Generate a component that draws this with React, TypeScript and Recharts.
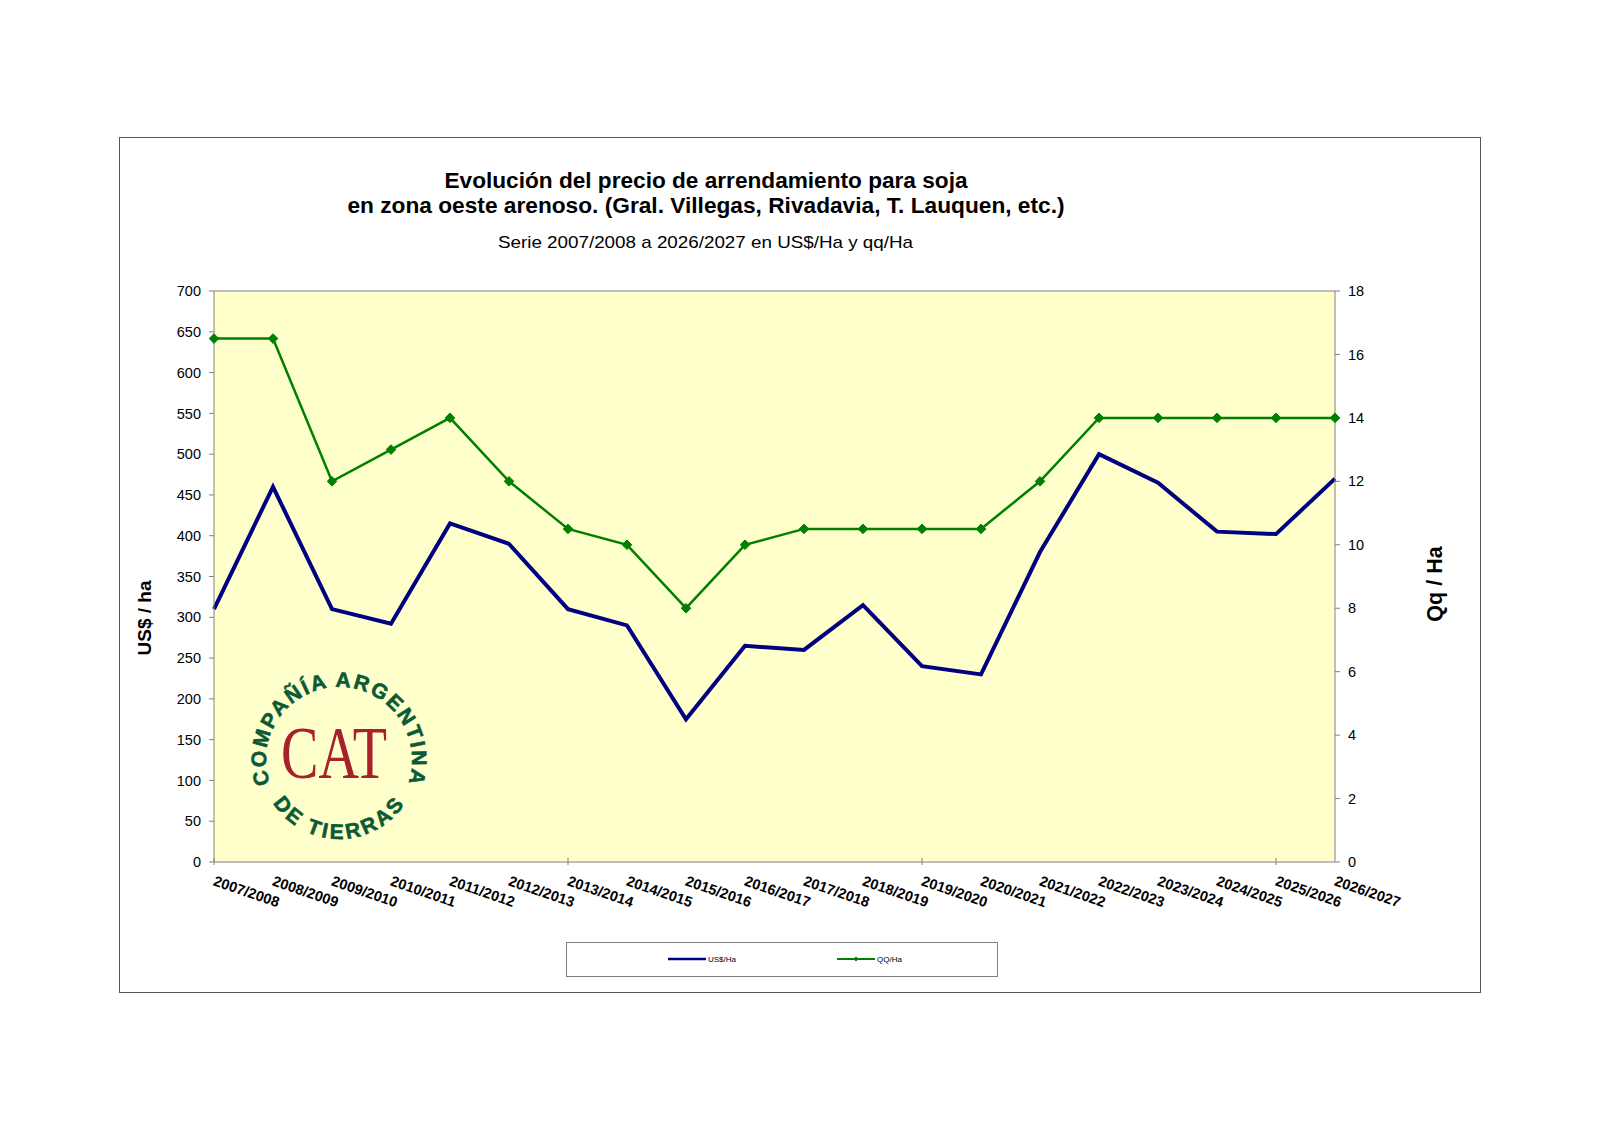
import { LineChart, Line, XAxis, YAxis, CartesianGrid, ReferenceLine, Legend } from "recharts";

const seasons = [
  "2007/2008", "2008/2009", "2009/2010", "2010/2011", "2011/2012",
  "2012/2013", "2013/2014", "2014/2015", "2015/2016", "2016/2017",
  "2017/2018", "2018/2019", "2019/2020", "2020/2021", "2021/2022",
  "2022/2023", "2023/2024", "2024/2025", "2025/2026", "2026/2027",
];
const usdHa = [310, 460, 310, 292, 415, 390, 310, 290, 175, 265, 260, 315, 240, 230, 380, 500, 465, 405, 402, 470];
const qqHa = [16.5, 16.5, 12, 13, 14, 12, 10.5, 10, 8, 10, 10.5, 10.5, 10.5, 10.5, 12, 14, 14, 14, 14, 14];
const leftTicks = [0, 50, 100, 150, 200, 250, 300, 350, 400, 450, 500, 550, 600, 650, 700];
const rightTicks = [0, 2, 4, 6, 8, 10, 12, 14, 16, 18];

const data = seasons.map((season, i) => ({ season, usd: usdHa[i], qq: qqHa[i] }));

const FONT = "'Liberation Sans', Arial, sans-serif";
const AXIS = "#808080";
const BLUE = "#000080";
const GREEN = "#008000";
const LOGO_GREEN = "#0b5a36";
const LOGO_RED = "#a8202a";

function SeasonTick(props: any) {
  const { x, y, payload, index } = props;
  const tx = x - 1.5;
  const ty = y + 23;
  return (
    <g>
      {index % 6 === 0 && <line x1={x} x2={x} y1={y - 4} y2={y + 3} stroke={AXIS} />}
      <text
        x={tx}
        y={ty}
        transform={`rotate(19 ${tx} ${ty})`}
        textAnchor="start"
        fontSize={14.5}
        fontWeight="bold"
        fill="#000"
      >
        {payload.value}
      </text>
    </g>
  );
}

function Diamond(props: any) {
  const { cx, cy, index } = props;
  if (cx == null || cy == null) return <g key={index} />;
  const r = 4.8;
  return (
    <path
      key={index}
      d={`M${cx},${cy - r}L${cx + r},${cy}L${cx},${cy + r}L${cx - r},${cy}Z`}
      fill={GREEN}
      stroke={GREEN}
    />
  );
}

// legend slots inside the box, by series key
const legendSpot: Record<string, number> = { usd: 101, qq: 270 };

function LegendBox(props: any) {
  const items = props.payload || [];
  return (
    <div style={{ width: 432, height: 35, border: `1px solid ${AXIS}`, boxSizing: "border-box", background: "#fff" }}>
      <svg width={430} height={33} style={{ display: "block" }}>
        {items.map((it: any) => {
          const x0 = legendSpot[it.dataKey] ?? 101;
          const isQq = it.dataKey === "qq";
          return (
            <g key={it.dataKey}>
              <line x1={x0} x2={x0 + 38} y1={16} y2={16} stroke={it.color} strokeWidth={isQq ? 2 : 2.5} />
              {isQq && <path d={`M${x0 + 19},${13.5}L${x0 + 21.5},${16}L${x0 + 19},${18.5}L${x0 + 16.5},${16}Z`} fill={it.color} />}
              <text x={x0 + 40} y={19} fontSize={8} fill="#000" fontFamily={FONT}>
                {it.value}
              </text>
            </g>
          );
        })}
      </svg>
    </div>
  );
}

function Logo() {
  const cx = 339;
  const cy = 760;
  const pt = (r: number, deg: number) => {
    const a = (deg * Math.PI) / 180;
    return [cx + r * Math.cos(a), cy - r * Math.sin(a)];
  };
  const rTop = 73;
  const [ax, ay] = pt(rTop, 199);
  const [bx, by] = pt(rTop, -19);
  const rBot = 79;
  const [cx1, cy1] = pt(rBot, 213);
  const [cx2, cy2] = pt(rBot, 327);
  return (
    <g>
      <defs>
        <path id="logoTop" d={`M${ax},${ay} A${rTop},${rTop} 0 1 1 ${bx},${by}`} />
        <path id="logoBottom" d={`M${cx1},${cy1} A${rBot},${rBot} 0 0 0 ${cx2},${cy2}`} />
      </defs>
      <text fontFamily={FONT} fontWeight="bold" fontSize={21} fill={LOGO_GREEN} stroke={LOGO_GREEN} strokeWidth={0.6}>
        <textPath href="#logoTop" textLength={276} lengthAdjust="spacing">
          COMPAÑÍA ARGENTINA
        </textPath>
      </text>
      <text fontFamily={FONT} fontWeight="bold" fontSize={21} fill={LOGO_GREEN} stroke={LOGO_GREEN} strokeWidth={0.6}>
        <textPath href="#logoBottom" textLength={155} lengthAdjust="spacing">
          DE TIERRAS
        </textPath>
      </text>
      <text
        x={281}
        y={778}
        fontFamily="'Liberation Serif', 'DejaVu Serif', serif"
        fontSize={74}
        fill={LOGO_RED}
        textLength={106}
        lengthAdjust="spacingAndGlyphs"
      >
        CAT
      </text>
    </g>
  );
}

export default function App() {
  return (
    <div style={{ position: "absolute", left: 0, top: 0, width: 1600, height: 1131, background: "#fff", fontFamily: FONT }}>
      <div
        style={{
          position: "absolute",
          left: 119,
          top: 137,
          width: 1362,
          height: 856,
          border: "1px solid #555",
          boxSizing: "border-box",
        }}
      />
      <div style={{ position: "absolute", left: 0, top: 0 }}>
        <LineChart
          width={1600}
          height={1131}
          data={data}
          margin={{ top: 291, right: 205, bottom: 209, left: 150 }}
        >
          <CartesianGrid horizontal={false} vertical={false} fill="#ffffcc" fillOpacity={1} />
          <XAxis
            dataKey="season"
            scale="point"
            interval={0}
            height={60}
            tickLine={false}
            tickSize={0}
            tickMargin={0}
            stroke={AXIS}
            tick={<SeasonTick />}
          />
          <YAxis
            yAxisId="left"
            domain={[0, 700]}
            ticks={leftTicks}
            interval={0}
            width={64}
            tickSize={5}
            tickMargin={8}
            stroke={AXIS}
            tick={{ fill: "#000", fontSize: 14.5 }}
            label={() => (
              <text
                x={151}
                y={618}
                transform="rotate(-90 151 618)"
                textAnchor="middle"
                fontSize={19}
                fontWeight="bold"
                fill="#000"
              >
                US$ / ha
              </text>
            )}
          />
          <YAxis
            yAxisId="right"
            orientation="right"
            domain={[0, 18]}
            ticks={rightTicks}
            interval={0}
            width={60}
            tickSize={5}
            tickMargin={8}
            stroke={AXIS}
            tick={{ fill: "#000", fontSize: 14.5 }}
            label={() => (
              <text
                x={1442}
                y={584}
                transform="rotate(-90 1442 584)"
                textAnchor="middle"
                fontSize={21.5}
                fontWeight="bold"
                fill="#000"
              >
                Qq / Ha
              </text>
            )}
          />
          <ReferenceLine yAxisId="left" y={700} stroke={AXIS} />
          <Legend
            layout="horizontal"
            verticalAlign="middle"
            align="center"
            wrapperStyle={{ position: "absolute", left: 566, top: 942, width: 432, height: 35 }}
            content={<LegendBox />}
          />
          <Line
            yAxisId="left"
            dataKey="usd"
            name="US$/Ha"
            type="linear"
            stroke={BLUE}
            strokeWidth={4}
            dot={false}
            isAnimationActive={false}
          />
          <Line
            yAxisId="right"
            dataKey="qq"
            name="QQ/Ha"
            type="linear"
            stroke={GREEN}
            strokeWidth={2.5}
            dot={<Diamond />}
            isAnimationActive={false}
          />
        </LineChart>
      </div>
      <svg width={1600} height={1131} style={{ position: "absolute", left: 0, top: 0, pointerEvents: "none" }}>
        <text x={706} y={188} textAnchor="middle" fontSize={22} fontWeight="bold" fill="#000" textLength={523} lengthAdjust="spacingAndGlyphs">
          Evolución del precio de arrendamiento para soja
        </text>
        <text x={706} y={213} textAnchor="middle" fontSize={22} fontWeight="bold" fill="#000" textLength={717} lengthAdjust="spacingAndGlyphs">
          en zona oeste arenoso. (Gral. Villegas, Rivadavia, T. Lauquen, etc.)
        </text>
        <text x={705.5} y={247.5} textAnchor="middle" fontSize={17} fill="#000" textLength={415} lengthAdjust="spacingAndGlyphs">
          Serie 2007/2008 a 2026/2027 en US$/Ha y qq/Ha
        </text>
        <Logo />
      </svg>
    </div>
  );
}
